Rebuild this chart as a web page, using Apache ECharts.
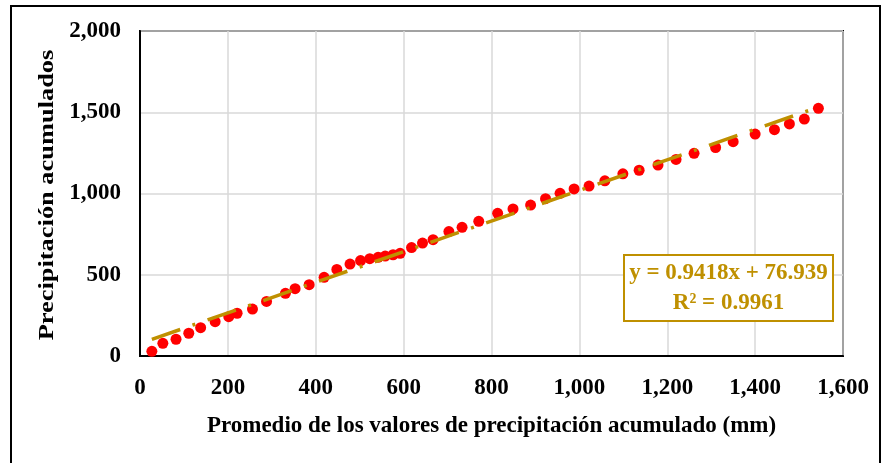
<!DOCTYPE html>
<html>
<head>
<meta charset="utf-8">
<script src="https://cdn.jsdelivr.net/npm/echarts@6/dist/echarts.min.js"></script>
<style>
html,body{margin:0;padding:0;background:#fff;}
#chart{width:888px;height:463px;}
</style>
</head>
<body>
<div id="chart"></div>
<script>
// Data
const xValues = [27,52,82,111,138,171,202,221,256,288,331,353,385,419,448,478,502,523,542,558,576,592,618,643,667,703,733,771,814,849,889,923,956,988,1022,1058,1099,1136,1179,1220,1261,1310,1350,1400,1444,1478,1512,1544];
const yValues = [29,78,103,140,174,211,242,263,289,336,386,414,439,484,533,566,587,599,607,615,623,632,667,695,716,766,792,829,878,905,929,968,1001,1028,1046,1078,1121,1143,1175,1210,1247,1283,1319,1366,1393,1428,1458,1524];
const trendSlope = 0.9418;
const trendIntercept = 76.939;
const trendText = ['y = 0.9418x + 76.939', 'R² = 0.9961'];
const xTitle = 'Promedio de los valores de precipitación acumulado (mm)';
const yTitle = 'Precipitación acumulados';
const xTicks = [0, 1600, 200];   // min, max, interval
const yTicks = [0, 2000, 500];

const points = xValues.map((x, i) => [x, yValues[i]]);
const xMin = Math.min(...xValues), xMax = Math.max(...xValues);
const trend = [[xMin, trendSlope * xMin + trendIntercept], [xMax, trendSlope * xMax + trendIntercept]];

const FONT = '"Liberation Serif", "Times New Roman", serif';
const GOLD = '#BF9000';
const fmt = v => v.toLocaleString('en-US');

const chart = echarts.init(document.getElementById('chart'), null, {renderer: 'canvas'});
chart.setOption({
  animation: false,
  backgroundColor: '#fff',
  grid: {left: 140, right: 45, top: 31, bottom: 107, show: true, borderColor: '#000', borderWidth: 2, containLabel: false},
  xAxis: {
    type: 'value', min: xTicks[0], max: xTicks[1], interval: xTicks[2],
    name: xTitle, nameLocation: 'middle', nameGap: 59,
    nameTextStyle: {fontFamily: FONT, fontWeight: 'bold', fontSize: 23, color: '#000'},
    axisLine: {show: true, lineStyle: {color: '#000', width: 2}},
    axisTick: {show: false},
    axisLabel: {formatter: fmt, fontFamily: FONT, fontWeight: 'bold', fontSize: 23, color: '#000', margin: 21},
    splitLine: {show: true, lineStyle: {color: '#d9d9d9', width: 1.5}}
  },
  yAxis: {
    type: 'value', min: yTicks[0], max: yTicks[1], interval: yTicks[2],
    axisLine: {show: true, lineStyle: {color: '#000', width: 2}},
    axisTick: {show: false},
    axisLabel: {formatter: fmt, fontFamily: FONT, fontWeight: 'bold', fontSize: 23, color: '#000', margin: 19},
    splitLine: {show: true, lineStyle: {color: '#d9d9d9', width: 1.5}}
  },
  series: [
    {
      type: 'scatter', data: points, symbol: 'circle', symbolSize: 11,
      itemStyle: {color: '#FF0000', opacity: 1}, z: 3
    },
    {
      type: 'line', data: trend, showSymbol: false, symbol: 'none',
      lineStyle: {color: GOLD, width: 3.5, type: [30, 13, 3, 13]}, z: 4
    }
  ],
  graphic: [
    {type: 'rect', shape: {x: 11, y: 6, width: 869, height: 480}, style: {fill: 'none', stroke: '#000', lineWidth: 2}, z: 0, silent: true},
    {type: 'text', x: 47, y: 195, rotation: Math.PI / 2, scaleX: 1.2,
     style: {text: yTitle, fill: '#000', font: 'bold 22px ' + FONT, align: 'center', verticalAlign: 'middle'}, z: 11},
    {type: 'rect', shape: {x: 624, y: 255, width: 209, height: 66}, style: {fill: '#fff', stroke: GOLD, lineWidth: 2}, z: 10},
    {type: 'text', x: 728.5, y: 273, style: {text: trendText[0], fill: GOLD, font: 'bold 23px ' + FONT, align: 'center', verticalAlign: 'middle'}, z: 11},
    {type: 'text', x: 728.5, y: 303, style: {text: trendText[1], fill: GOLD, font: 'bold 23px ' + FONT, align: 'center', verticalAlign: 'middle'}, z: 11}
  ]
});
</script>
</body>
</html>
